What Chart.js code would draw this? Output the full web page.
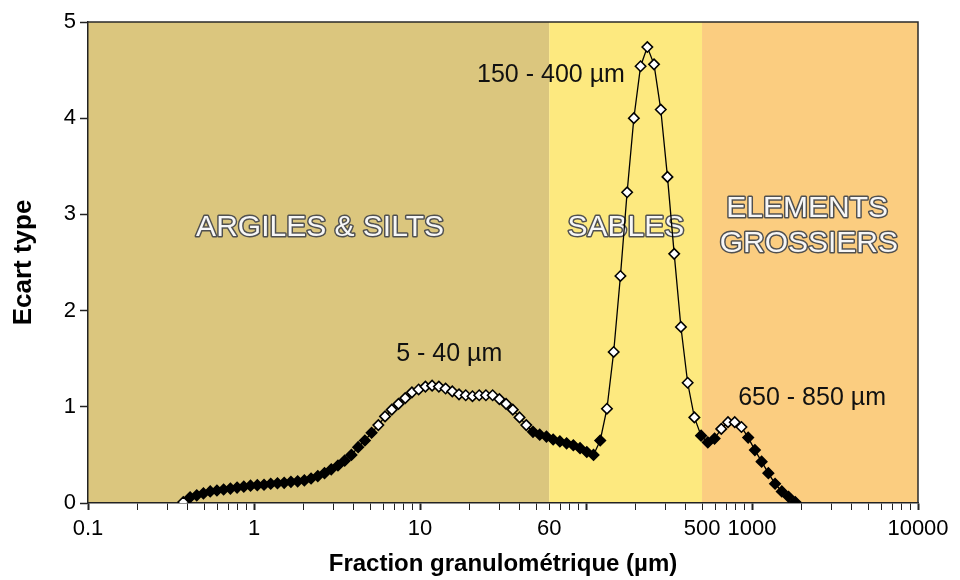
<!DOCTYPE html>
<html>
<head>
<meta charset="utf-8">
<script src="https://cdn.jsdelivr.net/npm/chart.js@4.4.1/dist/chart.umd.min.js"></script>
<style>
  html, body { margin: 0; padding: 0; background: #ffffff; }
  #wrap { width: 960px; height: 580px; }
</style>
</head>
<body>
<div id="wrap"><canvas id="c" width="960" height="580"></canvas></div>
<script>
// Particle size classes (µm)
const sizes = [0.375, 0.412, 0.452, 0.496, 0.545, 0.598, 0.656, 0.721, 0.791, 0.868,
  0.953, 1.047, 1.149, 1.261, 1.385, 1.520, 1.669, 1.832, 2.011, 2.207,
  2.423, 2.660, 2.920, 3.205, 3.519, 3.863, 4.240, 4.655, 5.110, 5.610,
  6.158, 6.760, 7.421, 8.147, 8.943, 9.817, 10.78, 11.83, 12.99, 14.26,
  15.65, 17.18, 18.86, 20.71, 22.73, 24.95, 27.39, 30.07, 33.01, 36.24,
  39.78, 43.67, 47.94, 52.62, 57.77, 63.41, 69.61, 76.42, 83.89, 92.09,
  101.1, 111.0, 121.8, 133.7, 146.8, 161.2, 176.9, 194.2, 213.2, 234.1,
  256.9, 282.1, 309.6, 339.9, 373.1, 409.6, 449.7, 493.6, 541.9, 594.9,
  653.0, 716.8, 786.9, 863.9, 948.3, 1041, 1143, 1255, 1377, 1512,
  1660, 1822];

// Standard deviation (Ecart type) per class
const ecartType = [0.01, 0.06, 0.08, 0.10, 0.12, 0.13, 0.14, 0.15, 0.16, 0.17,
  0.18, 0.185, 0.19, 0.20, 0.205, 0.21, 0.22, 0.225, 0.235, 0.255,
  0.28, 0.31, 0.35, 0.39, 0.44, 0.50, 0.58, 0.65, 0.73, 0.81,
  0.90, 0.97, 1.03, 1.09, 1.15, 1.18, 1.21, 1.22, 1.21, 1.19,
  1.16, 1.13, 1.12, 1.11, 1.12, 1.12, 1.12, 1.08, 1.03, 0.97,
  0.89, 0.81, 0.74, 0.71, 0.69, 0.66, 0.64, 0.62, 0.60, 0.57,
  0.53, 0.50, 0.65, 0.98, 1.57, 2.36, 3.23, 4.00, 4.54, 4.74,
  4.56, 4.09, 3.39, 2.59, 1.83, 1.25, 0.89, 0.70, 0.63, 0.67,
  0.77, 0.84, 0.84, 0.79, 0.68, 0.55, 0.43, 0.31, 0.20, 0.12,
  0.065, 0.01];

// Size ranges whose markers are drawn hollow (white)
const highlightRanges = [[0.37, 0.38], [5.5, 45], [130, 460], [640, 900]];

// Background fractions (µm)
const bandLimits = [[0.1, 60], [60, 500], [500, 10000]];
const bandColors = ['#DBC67E', '#FDE97F', '#FBCD80'];

// Region names and anchor (size µm, ecart type)
const regionNames = ['ARGILES & SILTS', 'SABLES', 'ELEMENTS', 'GROSSIERS'];
const regionAnchorX = [2.5, 174, 2150, 2200];
const regionAnchorY = [2.86, 2.86, 3.06, 2.69];

// Peak annotations
const peakLabels = ['5 - 40 µm', '150 - 400 µm', '650 - 850 µm'];
const peakAnchorX = [15, 61.5, 2300];
const peakAnchorY = [1.55, 4.45, 1.09];

// Axis tick labels
const xTickLabels = [0.1, 1, 10, 60, 500, 1000, 10000];
const yTickLabels = [0, 1, 2, 3, 4, 5];

const FONT = '"Liberation Sans", Arial, sans-serif';

const points = sizes.map((s, i) => ({ x: s, y: ecartType[i] }));
const isHighlighted = v => highlightRanges.some(r => v >= r[0] && v <= r[1]);

// minor tick positions on log axis
const tickVals = [];
[0.1, 1, 10, 100, 1000].forEach(d => {
  for (let m = 1; m <= 9; m++) tickVals.push(Number((d * m).toPrecision(6)));
});
tickVals.push(10000);
const isDecade = v => [0.1, 1, 10, 100, 1000, 10000].some(d => Math.abs(v - d) / d < 1e-6);

const decorPlugin = {
  id: 'decor',
  beforeDraw(chart) {
    const { ctx, chartArea: a, scales: { x } } = chart;
    ctx.save();
    bandLimits.forEach((b, i) => {
      const x0 = x.getPixelForValue(b[0]);
      const x1 = x.getPixelForValue(b[1]);
      ctx.fillStyle = bandColors[i];
      ctx.fillRect(x0, a.top, x1 - x0, a.bottom - a.top);
    });
    ctx.restore();
  },
  beforeDatasetsDraw(chart) {
    const { ctx, scales: { x, y } } = chart;
    ctx.save();
    ctx.textAlign = 'center';
    ctx.textBaseline = 'middle';
    // region names: outlined text
    ctx.font = '30px ' + FONT;
    ctx.lineJoin = 'round';
    ctx.lineWidth = 3;
    ctx.strokeStyle = '#505050';
    ctx.fillStyle = '#f7f7f7';
    regionNames.forEach((t, i) => {
      const px = x.getPixelForValue(regionAnchorX[i]);
      const py = y.getPixelForValue(regionAnchorY[i]);
      ctx.strokeText(t, px, py);
      ctx.fillText(t, px, py);
    });
    // peak labels
    ctx.font = '25px ' + FONT;
    ctx.fillStyle = '#111';
    peakLabels.forEach((t, i) => {
      ctx.fillText(t, x.getPixelForValue(peakAnchorX[i]), y.getPixelForValue(peakAnchorY[i]));
    });
    ctx.restore();
  },
  afterDraw(chart) {
    const { ctx, chartArea: a } = chart;
    ctx.save();
    ctx.strokeStyle = '#2a2a2a';
    ctx.lineWidth = 1.5;
    ctx.beginPath();
    ctx.moveTo(a.left, a.top);
    ctx.lineTo(a.right, a.top);
    ctx.lineTo(a.right, a.bottom);
    ctx.stroke();
    ctx.restore();
  }
};

new Chart(document.getElementById('c'), {
  type: 'scatter',
  data: {
    datasets: [{
      data: points,
      showLine: true,
      borderColor: '#000',
      borderWidth: 1.3,
      tension: 0,
      pointStyle: 'rectRot',
      pointRadius: 5.2,
      pointBorderWidth: 1.6,
      pointBorderColor: '#000',
      pointBackgroundColor: ctx => (ctx.raw && isHighlighted(ctx.raw.x)) ? '#ffffff' : '#000000'
    }]
  },
  options: {
    responsive: false,
    animation: false,
    devicePixelRatio: 1,
    layout: { padding: { top: 22, right: 42, left: 0, bottom: 0 } },
    plugins: { legend: { display: false }, tooltip: { enabled: false } },
    scales: {
      x: {
        type: 'logarithmic',
        min: 0.1,
        max: 10000,
        afterFit: s => { s.height = 77; },
        afterBuildTicks: s => { s.ticks = tickVals.map(v => ({ value: v })); },
        grid: {
          display: true,
          drawOnChartArea: false,
          drawTicks: true,
          tickLength: 7,
          tickColor: '#222',
          tickWidth: c => (c.tick && isDecade(c.tick.value)) ? 2 : 1
        },
        border: { display: true, color: '#222', width: 1.5 },
        ticks: {
          autoSkip: false,
          maxRotation: 0,
          minRotation: 0,
          padding: 6,
          color: '#000',
          font: { family: FONT, size: 22 },
          callback: v => {
            const l = xTickLabels.find(t => Math.abs(v - t) / t < 1e-6);
            return l === undefined ? '' : String(l);
          }
        },
        title: {
          display: true,
          text: 'Fraction granulométrique (µm)',
          color: '#000',
          font: { family: FONT, size: 24, weight: 'bold' },
          padding: { top: 0, bottom: 1 }
        }
      },
      y: {
        min: 0,
        max: 5,
        afterFit: s => { s.width = 88; },
        afterBuildTicks: s => { s.ticks = yTickLabels.map(v => ({ value: v })); },
        grid: {
          display: true,
          drawOnChartArea: false,
          drawTicks: true,
          tickLength: 8,
          tickColor: '#222',
          tickWidth: 1.5
        },
        border: { display: true, color: '#222', width: 1.5 },
        ticks: {
          padding: 4,
          color: '#000',
          font: { family: FONT, size: 22 }
        },
        title: {
          display: true,
          text: 'Ecart type',
          color: '#000',
          font: { family: FONT, size: 26, weight: 'bold' },
          padding: { top: 8, bottom: 0 }
        }
      }
    }
  },
  plugins: [decorPlugin]
});
</script>
</body>
</html>
